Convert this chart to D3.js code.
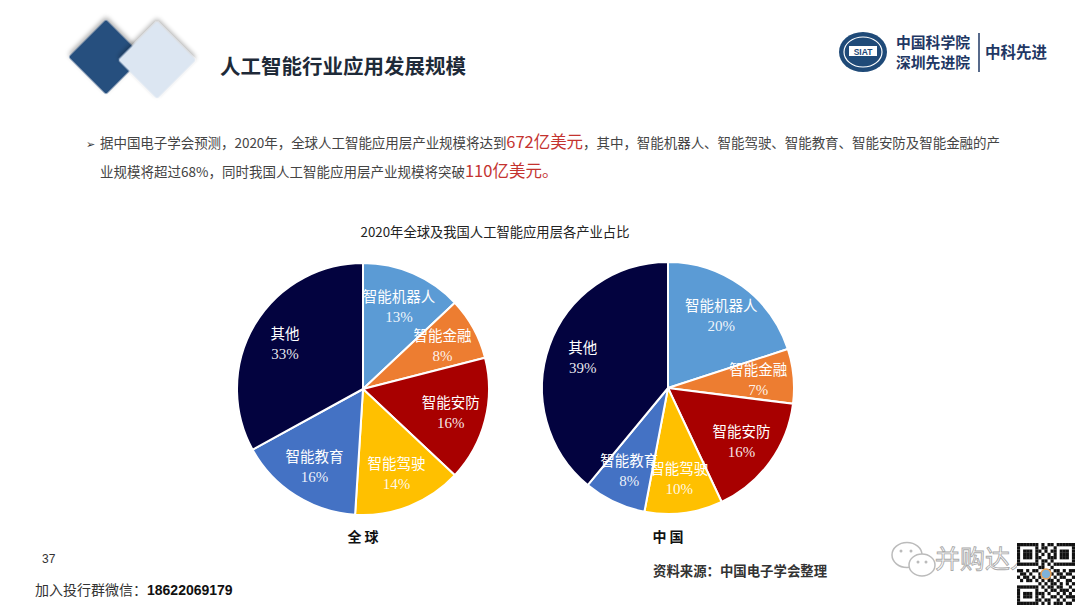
<!DOCTYPE html>
<html><head><meta charset="utf-8">
<script src="https://cdn.jsdelivr.net/npm/d3@7"></script>
<style>
html,body{margin:0;padding:0;background:#fff;}
svg{display:block;font-family:"Noto Sans CJK SC","Noto Sans",sans-serif;}
</style></head>
<body>
<svg id="c" width="1080" height="608"></svg>
<script>
// ---- data ----
const categories = ["智能机器人","智能金融","智能安防","智能驾驶","智能教育","其他"];
const globalValues = [13, 8, 16, 14, 16, 33];
const chinaValues = [20, 7, 16, 10, 8, 39];
const pieTitles = ["全 球", "中 国"];
const sliceColors = ["#5B9BD5","#ED7D31","#A80000","#FFC000","#4472C4","#03033F"];
const chartTitle = "2020年全球及我国人工智能应用层各产业占比";
const pageTitle = "人工智能行业应用发展规模";
const sourceNote = "资料来源：中国电子学会整理";

const svg = d3.select("#c");
const defs = svg.append("defs");
const f = defs.append("filter").attr("id","sh").attr("x","-30%").attr("y","-30%").attr("width","160%").attr("height","160%");
f.append("feGaussianBlur").attr("in","SourceAlpha").attr("stdDeviation",2.5);
f.append("feOffset").attr("dx",-2).attr("dy",-2).attr("result","o");
f.append("feComponentTransfer").append("feFuncA").attr("type","linear").attr("slope",0.35);
const m = f.append("feMerge"); m.append("feMergeNode"); m.append("feMergeNode").attr("in","SourceGraphic");

// ---- header diamonds ----
const dia = (cx, cy, s, fill) => svg.append("rect")
  .attr("x", -s/2).attr("y", -s/2).attr("width", s).attr("height", s).attr("rx", 2)
  .attr("fill", fill).attr("filter","url(#sh)")
  .attr("transform", `translate(${cx},${cy}) rotate(45)`);
dia(106, 57, 53, "#28507E");
dia(157, 60, 55, "#DCE6F2");

svg.append("text").attr("x", 220).attr("y", 74).attr("font-size", 20.5).attr("font-weight", "bold")
  .attr("fill", "#1E2A38").text(pageTitle);

// ---- top-right logo ----
const lg = svg.append("g").attr("transform","translate(863,52)");
lg.append("ellipse").attr("rx",24).attr("ry",20).attr("fill","#1F4A78");
lg.append("ellipse").attr("rx",19).attr("ry",15).attr("fill","none").attr("stroke","#fff").attr("stroke-width",1.2);
lg.append("rect").attr("x",-14).attr("y",-6).attr("width",28).attr("height",10).attr("fill","#fff");
lg.append("text").attr("y",3).attr("text-anchor","middle").attr("font-size",8.5).attr("font-weight","bold")
  .attr("font-family","Liberation Sans").attr("fill","#1F4A78").text("SIAT");
svg.append("text").attr("x",896).attr("y",48).attr("font-size",14.8).attr("font-weight","bold").attr("fill","#1F3864").text("中国科学院");
svg.append("text").attr("x",896).attr("y",68).attr("font-size",14.8).attr("font-weight","bold").attr("fill","#1F3864").text("深圳先进院");
svg.append("line").attr("x1",979).attr("x2",979).attr("y1",33).attr("y2",72).attr("stroke","#1F3864").attr("stroke-width",1.5);
svg.append("text").attr("x",985).attr("y",58).attr("font-size",15.5).attr("font-weight","bold").attr("fill","#1F3864").text("中科先进");

// ---- paragraph ----
svg.append("text").attr("x",86).attr("y",148).attr("font-size",11).attr("fill","#333").text("➢");
const p1 = svg.append("text").attr("x",100).attr("y",148).attr("font-size",13.5).attr("fill","#444")
  .attr("textLength", 900).attr("lengthAdjust","spacing");
p1.append("tspan").text("据中国电子学会预测，2020年，全球人工智能应用层产业规模将达到");
p1.append("tspan").attr("font-size",16.5).attr("fill","#C4332F").text("672亿美元");
p1.append("tspan").text("，其中，智能机器人、智能驾驶、智能教育、智能安防及智能金融的产");
const p2 = svg.append("text").attr("x",100).attr("y",177).attr("font-size",13.5).attr("fill","#444");
p2.append("tspan").text("业规模将超过68%，同时我国人工智能应用层产业规模将突破");
p2.append("tspan").attr("font-size",16.5).attr("fill","#C4332F").text("110亿美元。");

// ---- chart title ----
svg.append("text").attr("x",495).attr("y",237).attr("text-anchor","middle").attr("font-size",13.3)
  .attr("fill","#222").text(chartTitle);

// ---- pies ----
const R = 126;
const pie = d3.pie().sort(null).value(d => d.v);
const arc = d3.arc().innerRadius(0).outerRadius(R);
const labelArc = d3.arc().innerRadius(R*0.72).outerRadius(R*0.72);

function drawPie(values, cx, cy, title) {
  const data = categories.map((c,i) => ({c, v: values[i], col: sliceColors[i]}));
  const g = svg.append("g").attr("transform", `translate(${cx},${cy})`);
  const arcs = pie(data);
  g.selectAll("path").data(arcs).join("path")
    .attr("d", arc).attr("fill", d => d.data.col)
    .attr("stroke", "#fff").attr("stroke-width", 2).attr("stroke-linejoin","round");
  const lab = g.selectAll("g.l").data(arcs).join("g").attr("class","l")
    .attr("transform", d => `translate(${labelArc.centroid(d)})`);
  lab.append("text").attr("y", -4).attr("text-anchor","middle").attr("font-size", 14.5)
    .attr("font-family", "'Liberation Serif','Noto Sans CJK SC',serif")
    .attr("fill", "#fff").text(d => d.data.c);
  lab.append("text").attr("y", 16).attr("text-anchor","middle").attr("font-size", 15)
    .attr("font-family", "'Liberation Serif','DejaVu Serif',serif")
    .attr("fill", "#fff").attr("fill-opacity", 0.92).text(d => d.data.v + "%");
  svg.append("text").attr("x", cx).attr("y", 542).attr("text-anchor","middle")
    .attr("font-size", 14).attr("font-weight","bold").attr("fill","#111").text(title);
}
drawPie(globalValues, 363, 389, pieTitles[0]);
drawPie(chinaValues, 668, 388, pieTitles[1]);

// ---- source & footer ----
svg.append("text").attr("x",653).attr("y",576).attr("font-size",13.4).attr("font-weight","bold")
  .attr("fill","#333").text(sourceNote);
svg.append("text").attr("x",42).attr("y",563).attr("font-size",12).attr("font-family","Liberation Sans").attr("fill","#333").text("37");
const ft = svg.append("text").attr("x",35).attr("y",595).attr("font-size",14).attr("fill","#333");
ft.append("tspan").text("加入投行群微信：");
ft.append("tspan").attr("font-weight","bold").attr("font-family","Liberation Sans").attr("fill","#111").text("18622069179");

// ---- watermark ----
const wm = svg.append("g").attr("fill","none").attr("stroke","#bbb").attr("stroke-width",1.5);
wm.append("ellipse").attr("cx",907).attr("cy",555).attr("rx",15).attr("ry",12.5).attr("fill","#fff");
wm.append("ellipse").attr("cx",922).attr("cy",565).attr("rx",13).attr("ry",11).attr("fill","#fff");
[[901,551],[911,551],[918,562],[926,562]].forEach(([x,y]) =>
  svg.append("circle").attr("cx",x).attr("cy",y).attr("r",1.5).attr("fill","#bbb"));
svg.append("text").attr("x",935).attr("y",568).attr("font-size",25).attr("fill","#fff")
  .attr("stroke","#aaa").attr("stroke-width",0.9).text("并购达人");
// QR-like block
const qg = svg.append("g").attr("transform","translate(1017,543)");
qg.append("rect").attr("width",58).attr("height",62).attr("fill","#fff");
const qrRows = ["1111111010110111111","1000001011001000001","1011101101011011101","1011101010101011101","1011101100111011101","1000001011010000001","1111111010101111111","0000000110010000000","1101011001101101011","0110100110010110110","1011010101101011001","0101101010110100110","0000000101011010101","1111111010110110010","1000001001011011101","1011101110100101010","1011101010011010111","1000001101100101001","1111111010101110110"];
qrRows.forEach((row, r) => row.split("").forEach((b, c) => {
  if (b === "1") qg.append("rect").attr("x", c*3.05).attr("y", r*3.26).attr("width",3.1).attr("height",3.3).attr("fill","#111");
}));
qg.append("circle").attr("cx",29).attr("cy",31).attr("r",5).attr("fill","#7fb2d8").attr("stroke","#e9a35a").attr("stroke-width",1.5);
</script>
</body></html>
